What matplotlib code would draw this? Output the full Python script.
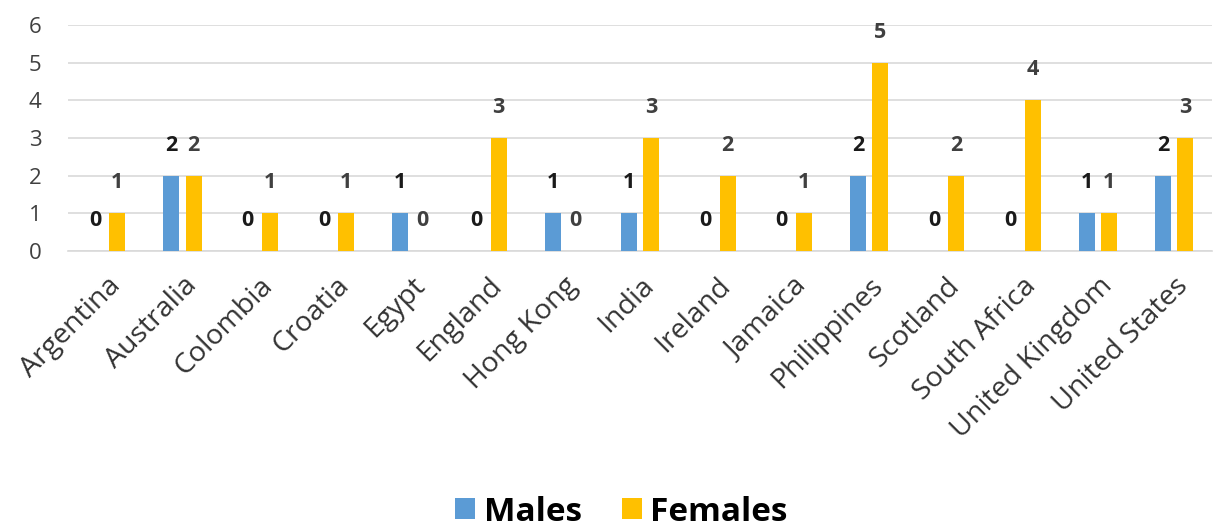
import matplotlib
matplotlib.use("Agg")
import matplotlib.pyplot as plt
import numpy as np
from matplotlib.patches import Patch

countries = ["Argentina", "Australia", "Colombia", "Croatia", "Egypt", "England",
             "Hong Kong", "India", "Ireland", "Jamaica", "Philippines", "Scotland",
             "South Africa", "United Kingdom", "United States"]
males = [0, 2, 0, 0, 1, 0, 1, 1, 0, 0, 2, 0, 0, 1, 2]
females = [1, 2, 1, 1, 0, 3, 0, 3, 2, 1, 5, 2, 4, 1, 3]
y_ticks = [0, 1, 2, 3, 4, 5, 6]

BLUE = "#5B9BD5"
GOLD = "#FFC000"
FONT = ["Open Sans", "DejaVu Sans"]
plt.rcParams["font.family"] = FONT

fig = plt.figure(figsize=(12.16, 5.29), dpi=100)
ax = fig.add_axes([0.056, 0.5255, 0.941, 0.4272])

x = np.arange(len(countries))
w = 0.21
off = 0.145
bm = ax.bar(x - off, males, width=w, color=BLUE, zorder=3)
bf = ax.bar(x + off, females, width=w, color=GOLD, zorder=3)

for rect, v in zip(bm, males):
    ax.annotate(str(v), (rect.get_x() + rect.get_width() / 2, v),
                xytext=(0, 22), textcoords="offset points",
                ha="center", va="center", fontsize=15.5, fontweight="bold",
                color="#1a1a1a", clip_on=False)
for rect, v in zip(bf, females):
    ax.annotate(str(v), (rect.get_x() + rect.get_width() / 2, v),
                xytext=(0, 22), textcoords="offset points",
                ha="center", va="center", fontsize=15.5, fontweight="bold",
                color="#404040", clip_on=False)

ax.set_xlim(-0.5, len(countries) - 0.5)
ax.set_ylim(0, 6)
ax.set_yticks(y_ticks)
ax.set_yticklabels([str(t) for t in y_ticks], fontsize=16, color="#404040")
ax.yaxis.grid(True, color="#D9D9D9", linewidth=1.2, zorder=0)
ax.set_axisbelow(True)
for s in ["top", "right", "left"]:
    ax.spines[s].set_visible(False)
ax.spines["bottom"].set_color("#D9D9D9")
ax.spines["bottom"].set_linewidth(1.2)
ax.tick_params(axis="y", length=0, pad=19)
ax.tick_params(axis="x", length=0, pad=15)
ax.set_xticks(x)
ax.set_xticklabels(countries, rotation=45, ha="right", rotation_mode="anchor",
                   fontsize=20.5, color="#333333")

handles = [Patch(facecolor=BLUE, label="Males"), Patch(facecolor=GOLD, label="Females")]
fig.legend(handles=handles, loc="center", bbox_to_anchor=(0.511, 0.032), ncol=2,
           frameon=False, prop={"family": FONT, "weight": "bold", "size": 24},
           handlelength=0.6, handleheight=0.6, handletextpad=0.25, columnspacing=1.2)

fig.savefig("out.png", dpi=100)
